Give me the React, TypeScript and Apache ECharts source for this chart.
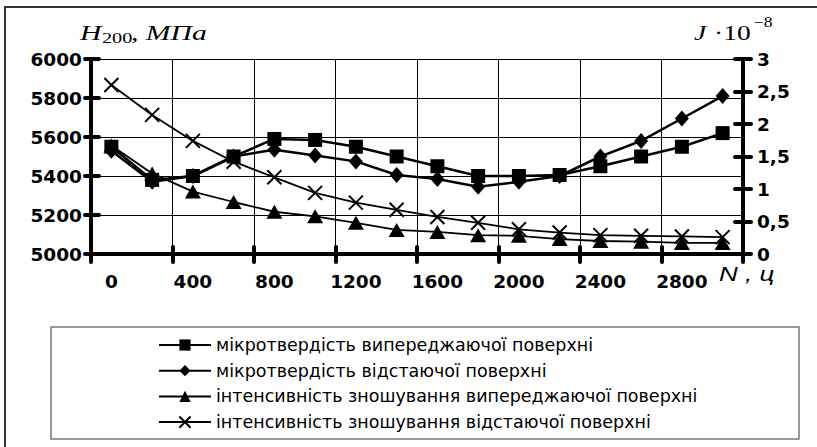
import React, { useEffect, useRef } from "react";
import * as echarts from "echarts";

const categories = ["0", "200", "400", "600", "800", "1000", "1200", "1400", "1600", "1800", "2000", "2200", "2400", "2600", "2800", "3000"];
const hFront = [5550, 5380, 5400, 5500, 5590, 5585, 5550, 5500, 5450, 5400, 5400, 5405, 5450, 5500, 5550, 5620];
const hBack = [5530, 5370, 5400, 5500, 5535, 5505, 5475, 5405, 5385, 5345, 5370, 5400, 5500, 5580, 5695, 5810];
const jFront = [1.67, 1.24, 0.96, 0.8, 0.65, 0.58, 0.48, 0.37, 0.34, 0.29, 0.28, 0.23, 0.2, 0.19, 0.17, 0.17];
const jBack = [2.6, 2.14, 1.74, 1.42, 1.18, 0.94, 0.79, 0.68, 0.57, 0.48, 0.38, 0.33, 0.29, 0.28, 0.27, 0.26];
const seriesNames = [
  "мікротвердість випереджаючої поверхні",
  "мікротвердість відстаючої поверхні",
  "інтенсивність зношування випереджаючої поверхні",
  "інтенсивність зношування відстаючої поверхні",
];

const LABEL_FONT = '"DejaVu Sans", "Liberation Sans", sans-serif';
const SERIF = '"Liberation Serif", "Times New Roman", serif';
const tickStyle = { color: "#000", width: 4, cap: "round" as const };

export default function App() {
  const ref = useRef<HTMLDivElement>(null);
  useEffect(() => {
    if (!ref.current) return;
    const chart = echarts.init(ref.current, null, { renderer: "svg" });
    const axisLabel = { color: "#000", fontFamily: LABEL_FONT, fontWeight: "bold" as const, fontSize: 18.5 };
    const txt = (text: string, x: number, y: number, size: number, italic: boolean, family: string, sx: number) => ({
      type: "text",
      x,
      y,
      scaleX: sx,
      silent: true,
      style: {
        text,
        fontFamily: family,
        fontSize: size,
        fontStyle: italic ? "italic" : "normal",
        fontWeight: "normal",
        fill: "#000",
        verticalAlign: "middle",
      },
    });
    chart.setOption({
      animation: false,
      backgroundColor: "#fff",
      grid: { left: 91, right: 74, top: 59, bottom: 193, containLabel: false },
      legend: {
        orient: "vertical",
        left: 153,
        top: 331,
        itemWidth: 52,
        itemHeight: 14,
        itemGap: 7.7,
        textStyle: { color: "#000", fontFamily: '"DejaVu Sans", sans-serif', fontSize: 17.5, lineHeight: 18 },
        data: seriesNames,
      },
      xAxis: [
        {
          type: "category",
          data: categories,
          boundaryGap: true,
          position: "bottom",
          axisLine: { lineStyle: { color: "#000", width: 4 } },
          axisTick: { show: true, interval: 1, length: 8, lineStyle: tickStyle },
          axisLabel: { ...axisLabel, interval: 1, margin: 18, formatter: (v: string, i: number) => (i === 15 ? "" : v) },
          splitLine: { show: true, interval: 1, lineStyle: { color: "#000", width: 1 } },
        },
        {
          type: "category",
          data: categories,
          boundaryGap: true,
          position: "bottom",
          axisLine: { show: false },
          axisTick: { show: true, inside: true, interval: 1, length: 7, lineStyle: tickStyle },
          axisLabel: { show: false },
          splitLine: { show: false },
        },
      ],
      yAxis: [
        {
          type: "value",
          position: "left",
          min: 5000,
          max: 6000,
          interval: 200,
          axisLine: { show: true, lineStyle: { color: "#000", width: 4 } },
          axisTick: { show: true, length: 6, lineStyle: tickStyle },
          axisLabel: { ...axisLabel, margin: 9, formatter: (v: number) => String(v) },
          splitLine: { show: true, lineStyle: { color: "#000", width: 1 } },
        },
        {
          type: "value",
          position: "right",
          min: 0,
          max: 3,
          interval: 0.5,
          axisLine: { show: true, lineStyle: { color: "#000", width: 4 } },
          axisTick: { show: true, length: 8, lineStyle: tickStyle },
          axisLabel: { ...axisLabel, margin: 14, formatter: (v: number) => String(v).replace(".", ",") },
          splitLine: { show: false },
        },
        {
          type: "value",
          position: "left",
          min: 5000,
          max: 6000,
          interval: 200,
          axisLine: { show: false },
          axisTick: { show: true, inside: true, length: 8, lineStyle: tickStyle },
          axisLabel: { show: false },
          splitLine: { show: false },
        },
        {
          type: "value",
          position: "right",
          min: 0,
          max: 3,
          interval: 0.5,
          axisLine: { show: false },
          axisTick: { show: true, inside: true, length: 8, lineStyle: tickStyle },
          axisLabel: { show: false },
          splitLine: { show: false },
        },
      ],
      series: [
        {
          name: seriesNames[0],
          type: "line",
          data: hFront,
          yAxisIndex: 0,
          z: 6,
          symbol: "rect",
          symbolSize: 14,
          lineStyle: { color: "#000", width: 2.5 },
          itemStyle: { color: "#000" },
        },
        {
          name: seriesNames[1],
          type: "line",
          data: hBack,
          yAxisIndex: 0,
          z: 5,
          symbol: "diamond",
          symbolSize: [14, 16],
          lineStyle: { color: "#000", width: 2.5 },
          itemStyle: { color: "#000" },
        },
        {
          name: seriesNames[2],
          type: "line",
          data: jFront,
          yAxisIndex: 1,
          z: 4,
          symbol: "triangle",
          symbolSize: [16, 14],
          lineStyle: { color: "#000", width: 1.8 },
          itemStyle: { color: "#000" },
        },
        {
          name: seriesNames[3],
          type: "line",
          data: jBack,
          yAxisIndex: 1,
          z: 3,
          symbol: "path://M0 0L10 10M10 0L0 10",
          symbolSize: 14,
          lineStyle: { color: "#000", width: 1.8 },
          itemStyle: { color: "#000", borderColor: "#000", borderWidth: 2 },
        },
      ],
      graphic: [
        { type: "rect", silent: true, shape: { x: 5, y: 7, width: 860, height: 480 }, style: { fill: "none", stroke: "#333", lineWidth: 2 } },
        { type: "rect", silent: true, shape: { x: 51, y: 327, width: 748, height: 112 }, style: { fill: "none", stroke: "#777", lineWidth: 1.5 } },
        txt("H", 80, 33, 22, true, SERIF, 1.35),
        txt("200", 102, 38, 15, false, SERIF, 1.35),
        txt(", МПа", 131, 33, 22, true, SERIF, 1.35),
        txt("J", 694, 32, 22, true, SERIF, 1.25),
        txt("·10", 714, 32, 22, false, SERIF, 1.25),
        txt("−8", 754, 22, 14, false, SERIF, 1.25),
        txt("N , ц", 719, 274, 20, true, '"Liberation Sans", sans-serif', 1.3),
      ],
    });
    return () => chart.dispose();
  }, []);
  return <div ref={ref} style={{ position: "fixed", left: 0, top: 0, width: 817, height: 447, background: "#fff" }} />;
}
